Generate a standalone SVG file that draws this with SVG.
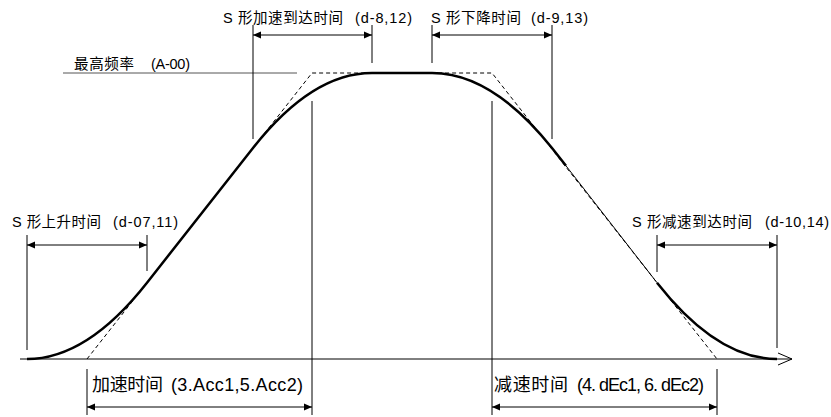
<svg xmlns="http://www.w3.org/2000/svg" width="831" height="417" viewBox="0 0 831 417">
<defs>
<marker id="ah" viewBox="0 0 8 8" markerWidth="8" markerHeight="8" refX="8" refY="4" orient="auto-start-reverse" markerUnits="userSpaceOnUse">
<path d="M0,0.5 L8,4 L0,7.5 z" fill="#000"/>
</marker>
<style>
.t{font-family:"Liberation Sans","Noto Sans CJK SC",sans-serif;font-size:14.5px;fill:#000}
.tb{font-family:"Liberation Sans","Noto Sans CJK SC",sans-serif;font-size:18px;fill:#000}
.thin{stroke:#000;stroke-width:1;fill:none}
.dim{stroke:#000;stroke-width:1;fill:none;marker-start:url(#ah);marker-end:url(#ah)}
.dash{stroke:#000;stroke-width:1;fill:none;stroke-dasharray:4 3}
.curve{stroke:#000;stroke-width:2.5;fill:none;stroke-linejoin:round}
</style>
</defs>
<rect width="831" height="417" fill="#fff"/>
<g id="axis">
<line class="thin" x1="20" y1="359" x2="792" y2="359"/>
<polyline class="thin" points="778,353 792,359 778,365"/>
</g>
<g id="max-freq">
<line x1="63" y1="73" x2="297" y2="73" stroke="#555" stroke-width="1"/>
<text class="t" y="69"><tspan x="74" textLength="60" lengthAdjust="spacing">最高频率</tspan><tspan x="151" textLength="39" lengthAdjust="spacing">(A-00)</tspan></text>
</g>
<g id="linear-ramp">
<path class="dash" d="M87,359 L312,73 L492,73 L717,359"/>
</g>
<g id="s-curve">
<path class="curve" d="M27,359 Q87,359 147,282.7 L253,148 Q312,73 372,73 L432,73 Q492,73 552,148 L566,165.8"/>
<line class="thin" x1="566" y1="165.8" x2="657" y2="282.7"/>
<path class="curve" d="M657,282.7 Q717,359 777,359"/>
</g>
<g id="connectors">
<line class="thin" x1="253" y1="25" x2="253" y2="139"/>
<line class="thin" x1="372" y1="25" x2="372" y2="63"/>
<line class="thin" x1="432" y1="25" x2="432" y2="63"/>
<line class="thin" x1="552" y1="25" x2="552" y2="139"/>
<line class="thin" x1="312" y1="101" x2="312" y2="415"/>
<line class="thin" x1="492" y1="101" x2="492" y2="415"/>
<line class="thin" x1="27" y1="235" x2="27" y2="350"/>
<line class="thin" x1="147" y1="235" x2="147" y2="271"/>
<line class="thin" x1="657" y1="235" x2="657" y2="272"/>
<line class="thin" x1="777" y1="235" x2="777" y2="348"/>
<line class="thin" x1="87" y1="369" x2="87" y2="415"/>
<line class="thin" x1="717" y1="369" x2="717" y2="415"/>
<line class="dim" x1="253" y1="35" x2="372" y2="35"/>
<line class="dim" x1="432" y1="35" x2="552" y2="35"/>
<line class="dim" x1="27" y1="245" x2="147" y2="245"/>
<line class="dim" x1="657" y1="245" x2="777" y2="245"/>
<line class="dim" x1="87" y1="407" x2="312" y2="407"/>
<line class="dim" x1="492" y1="407" x2="717" y2="407"/>
</g>
<g id="label-s-acc-reach">
<text class="t" y="23"><tspan x="223" textLength="120" lengthAdjust="spacing">S 形加速到达时间</tspan><tspan x="355" textLength="57" lengthAdjust="spacing">(d-8,12)</tspan></text>
</g>
<g id="label-s-fall">
<text class="t" y="23"><tspan x="431" textLength="90" lengthAdjust="spacing">S 形下降时间</tspan><tspan x="531" textLength="57" lengthAdjust="spacing">(d-9,13)</tspan></text>
</g>
<g id="label-s-rise">
<text class="t" y="227"><tspan x="12" textLength="89" lengthAdjust="spacing">S 形上升时间</tspan><tspan x="113" textLength="65" lengthAdjust="spacing">(d-07,11)</tspan></text>
</g>
<g id="label-s-dec-reach">
<text class="t" y="227"><tspan x="632" textLength="120" lengthAdjust="spacing">S 形减速到达时间</tspan><tspan x="765" textLength="64" lengthAdjust="spacing">(d-10,14)</tspan></text>
</g>
<g id="label-acc">
<text class="tb" y="391"><tspan x="92" textLength="71" lengthAdjust="spacing">加速时间</tspan><tspan x="171" textLength="132" lengthAdjust="spacing">(3.Acc1,5.Acc2)</tspan></text>
</g>
<g id="label-dec">
<text class="tb" y="391"><tspan x="494" textLength="74" lengthAdjust="spacing">减速时间</tspan><tspan x="577" textLength="127" lengthAdjust="spacing">(4. dEc1, 6. dEc2)</tspan></text>
</g>
</svg>
